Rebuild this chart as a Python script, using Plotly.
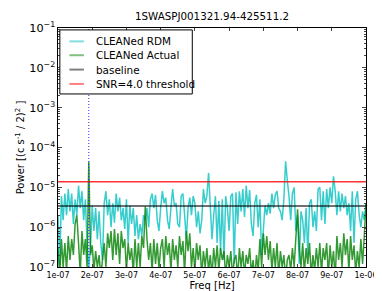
import numpy as np
import plotly.graph_objects as go

title_text = "1SWASPJ001321.94-425511.2"

# periodogram frequency grid [Hz]
freq = np.linspace(1e-7, 1e-6, 181)

rdm_power = [
    2.0e-6, 1.1e-7, 6e-6, 1.5e-6, 7e-6, 2e-6, 9e-6, 2.5e-6, 7e-6, 1.2e-6,
    5e-6, 2e-6, 1.1e-5, 3e-6, 8e-6, 1.5e-6, 5e-6, 4e-7, 1.0e-7,
    3e-7, 3.5e-6, 8e-7, 3e-6, 5e-7, 2.5e-6, 4e-7, 1.5e-7, 4e-6, 8e-6,
    2e-6, 5e-6, 1e-6, 4e-6, 1.3e-6, 7e-6, 2.5e-6, 5.5e-6, 1.5e-6, 3e-6,
    9e-7, 5e-6, 4e-7, 3.5e-6, 1.2e-6, 3e-6, 6e-7, 2e-6,
    5e-7, 1.2e-6, 6e-7, 2e-6, 1.5e-6, 3e-6, 1e-6, 5e-6, 7e-6, 3e-6,
    6.5e-6, 1.5e-6, 8e-7, 3e-6, 8e-6, 4e-6, 5.5e-6, 1.5e-6, 9e-7, 3e-6,
    9e-6, 3.5e-6, 4e-6, 1.2e-6, 1e-6, 6e-6, 7e-6, 2e-6, 5e-7, 3e-6,
    5.5e-6, 2e-6, 6e-6, 4e-6, 1e-6, 2.5e-6, 7e-7, 1.5e-6, 9e-6, 4e-6,
    6e-6, 2.3e-5, 3e-6, 5e-7,
    2e-6, 6e-6, 4e-7, 4.5e-6, 2.5e-7, 5e-6, 1.5e-7, 6e-6, 3e-6, 8e-7,
    6e-6, 7e-6, 1.2e-7, 7.5e-6, 1.2e-6, 8e-6, 2.5e-6, 9e-6, 1.8e-6, 1.1e-5,
    3e-6, 8.5e-6, 1.2e-6, 6e-7, 4e-6, 6.5e-6, 1e-6, 5e-6, 2e-7, 8e-7,
    3.5e-6, 2e-6, 4e-6, 2.2e-6, 7e-6, 3e-6, 6.5e-6, 8e-6, 3e-6, 2.5e-6,
    1.5e-6, 5e-6, 4.5e-5, 1.5e-5,
    6e-6, 1.5e-6, 7e-6, 1e-5, 8e-7, 2e-6, 1.2e-7, 2.5e-6, 1.5e-6, 4e-7,
    3e-6, 2e-7, 4e-6, 5e-6, 1e-6, 2.5e-6, 8e-7, 9e-6, 1e-5, 1.5e-6,
    8e-6, 1.2e-6, 9e-6, 3e-6, 1e-5, 4e-6, 1.9e-5, 8e-6, 2e-6, 8e-6,
    2.5e-6, 7e-6, 3e-6, 6e-6, 2e-6, 4e-6, 8e-7, 8e-6, 4e-7, 5e-6,
    8e-6, 2e-6, 1e-6, 2.5e-6, 1.5e-6, 4e-6,
]

actual_power = [
    3e-7, 6e-8, 5e-7, 1e-7, 4e-7, 8e-8, 6e-7, 1.5e-7, 5e-7, 2e-7,
    1.2e-6, 2e-6, 4e-7, 7e-8, 8e-7, 2e-7, 5e-7, 1e-7, 4.4e-5,
    2e-7, 3.5e-7, 8e-8, 2.5e-7, 1e-7, 2e-7, 6e-8, 1.5e-7, 4e-7, 1e-7,
    7e-7, 3e-7, 8e-7, 1.5e-7, 9e-7, 2e-7, 7e-7, 1.2e-7, 8e-7, 3e-7,
    5e-7, 8e-8, 4e-7, 1.5e-7, 3e-7, 7e-8, 5e-7, 1e-7,
    4e-7, 1e-7, 6e-7, 3e-7, 3.3e-6, 5e-7, 1.5e-7, 4e-7, 8e-8, 5e-7,
    1.2e-7, 4e-7, 9e-8, 3e-7, 5e-7, 1e-7, 6e-7, 2e-7, 4e-7, 8e-8,
    5e-7, 1.5e-7, 3.5e-7, 1e-7, 6e-7, 2e-7, 4.5e-7, 7e-8, 8e-7, 2.5e-7,
    7e-7, 1e-7, 3e-7, 8e-8, 4e-7, 1.5e-7, 3.5e-7, 6e-8, 2.5e-7, 1e-7,
    3e-7, 8e-8, 2e-7, 6e-8,
    3e-7, 1e-7, 3.5e-7, 8e-8, 3e-7, 1.5e-7, 2.5e-7, 6e-8, 2e-7, 1e-7,
    2.5e-7, 6e-8, 1.5e-7, 2e-7, 5e-8, 3e-7, 1e-7, 2.5e-7, 6e-8, 2e-7,
    1.2e-7, 3e-7, 7e-8, 1.5e-7, 5e-8, 2e-7, 8e-8, 5e-7, 1e-7, 7e-7,
    2e-7, 6e-7, 1.5e-7, 4.5e-7, 8e-8, 3e-7, 1e-7, 4e-7, 6e-8, 2.5e-7,
    1e-7, 2e-7, 5e-8, 1.5e-7,
    2e-7, 8e-8, 3e-7, 1e-7, 4e-7, 2.8e-6, 3e-7, 1e-7, 4e-7, 7e-8,
    3e-7, 1.2e-7, 4e-7, 6e-8, 2e-7, 8e-8, 3e-7, 1e-7, 4e-7, 7e-8,
    3e-7, 1.5e-7, 4e-7, 6e-8, 3.5e-7, 1e-7, 2.5e-7, 5e-8, 6e-7, 1.5e-7,
    4e-7, 1e-7, 7e-7, 2e-7, 5e-7, 8e-8, 6e-7, 1.5e-7, 3.5e-7, 7e-8,
    2.5e-7, 1e-7, 5e-7, 1.2e-7, 6e-7, 4e-6,
]

baseline = 3.4e-6
snr = 4.0
threshold = 1.38e-5
peak_freq = 1.9e-7
x_limits = [1e-7, 1e-6]
y_limits_exp = [-7, -1]

x_tickvals = [1e-7, 2e-7, 3e-7, 4e-7, 5e-7, 6e-7, 7e-7, 8e-7, 9e-7, 1e-6]
x_ticktext = ["1e-07", "2e-07", "3e-07", "4e-07", "5e-07", "6e-07",
              "7e-07", "8e-07", "9e-07", "1e-06"]

series_names = ["CLEANed RDM", "CLEANed Actual", "baseline", "SNR=%.1f threshold" % snr]
series_colors = ["rgba(0,191,191,0.78)", "rgba(0,128,0,0.8)",
                 "rgba(0,0,0,0.75)", "rgba(255,0,0,0.8)"]
series_widths = [1.5, 1.5, 1.5, 1.3]
legend_colors = ["rgba(0,191,191,0.5)", "rgba(0,128,0,0.5)",
                 "rgba(0,0,0,0.5)", "rgba(255,0,0,0.5)"]

fig = go.Figure()
fig.add_trace(go.Scatter(x=freq, y=rdm_power, mode="lines", name=series_names[0],
                         line=dict(color=series_colors[0], width=series_widths[0])))
fig.add_trace(go.Scatter(x=freq, y=actual_power, mode="lines", name=series_names[1],
                         line=dict(color=series_colors[1], width=series_widths[1])))
fig.add_trace(go.Scatter(x=x_limits, y=[baseline, baseline], mode="lines", name=series_names[2],
                         line=dict(color=series_colors[2], width=series_widths[2])))
fig.add_trace(go.Scatter(x=x_limits, y=[threshold, threshold], mode="lines",
                         name=series_names[3],
                         line=dict(color=series_colors[3], width=series_widths[3])))

fig.add_vline(x=peak_freq, line=dict(color="rgb(40,40,255)", width=1, dash="1px,2px"))

# legend drawn manually (matplotlib-style compact rows)
fig.add_shape(type="rect", xref="paper", yref="paper", x0=0.006, x1=0.436, y0=0.724, y1=0.992,
              line=dict(color="black", width=1), fillcolor="white", layer="above")
row_y = [0.944, 0.886, 0.826, 0.766]
for name, col, yy in zip(series_names, legend_colors, row_y):
    fig.add_shape(type="line", xref="paper", yref="paper", x0=0.037, x1=0.084, y0=yy, y1=yy,
                  line=dict(color=col, width=2), layer="above")
    fig.add_annotation(text=name, xref="paper", yref="paper", x=0.116, y=yy,
                       xanchor="left", yanchor="middle", showarrow=False,
                       font=dict(size=10.4, color="black"))

fig.update_layout(
    width=382, height=291,
    margin=dict(l=43, r=18, t=16, b=25),
    paper_bgcolor="white", plot_bgcolor="white",
    font=dict(family="DejaVu Sans", size=8, color="black"),
    title=dict(text=title_text, x=0.5, xref="paper", xanchor="center",
               y=1 - 8.5 / 291, yref="container", yanchor="middle",
               font=dict(size=10.3, color="black")),
    showlegend=False,
)
fig.update_xaxes(range=x_limits, tickvals=x_tickvals, ticktext=x_ticktext,
                 ticks="inside", ticklen=3, mirror="allticks", showline=True,
                 linecolor="black", linewidth=1, showgrid=False, zeroline=False,
                 title=dict(text="Freq [Hz]", standoff=0, font=dict(size=10)),
                 tickfont=dict(size=8))
fig.update_yaxes(type="log", range=y_limits_exp, dtick=1, exponentformat="power",
                 ticks="inside", ticklen=4, mirror="allticks", showline=True,
                 linecolor="black", linewidth=1, showgrid=False, zeroline=False,
                 minor=dict(ticks="inside", ticklen=2, showgrid=False),
                 title=dict(text="Power [(c s<sup>-1</sup> / 2)<sup>2</sup> ]", standoff=2,
                            font=dict(size=10)),
                 tickfont=dict(size=9))

fig.write_html("out.html")
